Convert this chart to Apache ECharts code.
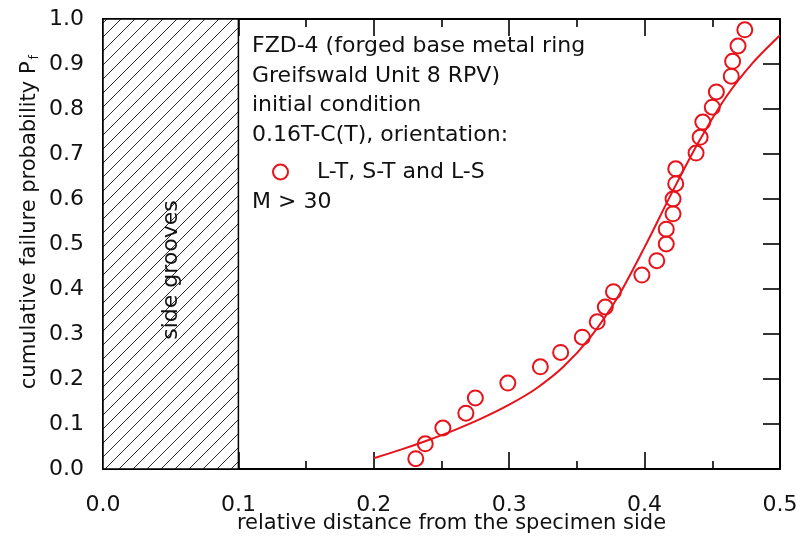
<!DOCTYPE html>
<html>
<head>
<meta charset="utf-8">
<script src="https://cdn.jsdelivr.net/npm/echarts@6/dist/echarts.min.js"></script>
<style>
  html, body { margin: 0; padding: 0; background: #fff; }
  #chart { width: 797px; height: 544px; }
</style>
</head>
<body>
<div id="chart"></div>
<script>
// Measured failure positions (relative distance) and their cumulative failure probability
const pointX = [0.231, 0.238, 0.251, 0.268, 0.275, 0.299, 0.323, 0.338, 0.354, 0.365,
                0.371, 0.377, 0.398, 0.409, 0.416, 0.416, 0.421, 0.421, 0.423, 0.423,
                0.438, 0.441, 0.443, 0.450, 0.453, 0.464, 0.465, 0.469, 0.474];
const pointY = [0.023, 0.056, 0.091, 0.124, 0.158, 0.191, 0.227, 0.259, 0.293, 0.327,
                0.360, 0.394, 0.431, 0.463, 0.500, 0.533, 0.567, 0.600, 0.634, 0.667,
                0.702, 0.737, 0.771, 0.804, 0.838, 0.873, 0.906, 0.940, 0.976];

// Fitted distribution curve
const curveX = [0.200, 0.220, 0.240, 0.260, 0.280, 0.300, 0.320, 0.340, 0.360,
                0.380, 0.400, 0.420, 0.440, 0.460, 0.480, 0.500];
const curveY = [0.024, 0.043, 0.064, 0.087, 0.113, 0.143, 0.179, 0.227, 0.293,
                0.381, 0.493, 0.613, 0.727, 0.826, 0.903, 0.964];

// Side-groove zone along the x axis
const grooveRange = [0.0, 0.1];

const xRange = [0, 0.5];
const yRange = [0, 1];

const infoLines = [
  'FZD-4 (forged base metal ring',
  'Greifswald Unit 8 RPV)',
  'initial condition',
  '0.16T-C(T), orientation:'
];
const seriesName = 'L-T, S-T and L-S';
const noteLine = 'M > 30';
const xTitle = 'relative distance from the specimen side';
const yTitle = 'cumulative failure probability P';
const ySub = 'f';
const grooveLabel = 'side grooves';

const RED = '#e8121a';
const FONT = 'DejaVu Sans';
const INK = '#111';

function hatchPattern() {
  const s = 14;
  const c = document.createElement('canvas');
  c.width = s; c.height = s;
  const g = c.getContext('2d');
  g.fillStyle = '#fff';
  g.fillRect(0, 0, s, s);
  g.strokeStyle = '#2a2a2a';
  g.lineWidth = 1;
  g.beginPath();
  g.moveTo(-2, s + 2); g.lineTo(s + 2, -2);
  g.moveTo(-2, 2); g.lineTo(2, -2);
  g.moveTo(s - 2, s + 2); g.lineTo(s + 2, s - 2);
  g.stroke();
  return c;
}

const chart = echarts.init(document.getElementById('chart'), null, { renderer: 'canvas' });

const fmt = v => v.toFixed(1);

const axisCommon = {
  type: 'value',
  interval: 0.1,
  axisLine: { show: true, onZero: false, lineStyle: { color: '#000', width: 2 } },
  axisTick: { show: true, inside: true, length: 17, lineStyle: { color: '#000', width: 1.6 } },
  splitLine: { show: false },
  nameMoveOverlap: false
};

const option = {
  backgroundColor: '#fff',
  animation: false,
  grid: { left: 103, top: 19, width: 677, height: 450, containLabel: false, outerBoundsMode: 'none' },
  xAxis: [
    Object.assign({}, axisCommon, {
      position: 'bottom', min: xRange[0], max: xRange[1],
      minorTick: { show: true, splitNumber: 2, length: 8, lineStyle: { color: '#000', width: 1.6 } },
      axisLabel: { show: true, formatter: fmt, margin: 25, fontFamily: FONT, fontSize: 22, color: INK },
      name: xTitle, nameLocation: 'middle', nameGap: 44,
      nameTextStyle: { fontFamily: FONT, fontSize: 21, color: INK, padding: [0, 0, 0, 20] }
    }),
    Object.assign({}, axisCommon, {
      position: 'top', min: xRange[0], max: xRange[1],
      minorTick: { show: true, splitNumber: 2, length: 8, lineStyle: { color: '#000', width: 1.6 } },
      axisLabel: { show: false }
    })
  ],
  yAxis: [
    Object.assign({}, axisCommon, {
      position: 'left', min: yRange[0], max: yRange[1],
      axisLabel: { show: true, formatter: fmt, margin: 19, fontFamily: FONT, fontSize: 22, color: INK }
    }),
    Object.assign({}, axisCommon, {
      position: 'right', min: yRange[0], max: yRange[1],
      axisLabel: { show: false }
    })
  ],
  legend: {
    show: true,
    data: [seriesName],
    left: 267, top: 156,
    orient: 'vertical',
    icon: 'circle',
    itemWidth: 15, itemHeight: 15,
    itemStyle: { color: 'rgba(0,0,0,0)', borderColor: RED, borderWidth: 2 },
    textStyle: { fontFamily: FONT, fontSize: 22, color: INK, padding: [0, 0, 0, 24] },
    selectedMode: false
  },
  series: [
    {
      name: 'zone',
      type: 'line',
      data: [],
      silent: true,
      markArea: {
        silent: true,
        itemStyle: {
          color: { image: hatchPattern(), repeat: 'repeat' },
          opacity: 1,
          borderColor: '#000', borderWidth: 1.5
        },
        label: { show: false },
        data: [[{ xAxis: grooveRange[0], yAxis: yRange[0] }, { xAxis: grooveRange[1], yAxis: yRange[1] }]]
      }
    },
    {
      name: 'fit',
      type: 'line',
      data: curveX.map((x, i) => [x, curveY[i]]),
      showSymbol: false,
      smooth: 0.3,
      clip: true,
      lineStyle: { color: RED, width: 2 },
      z: 3
    },
    {
      name: seriesName,
      type: 'scatter',
      data: pointX.map((x, i) => [x, pointY[i]]),
      symbol: 'circle',
      symbolSize: 15,
      itemStyle: { color: 'rgba(0,0,0,0)', borderColor: RED, borderWidth: 2, opacity: 1 },
      z: 4
    }
  ],
  graphic: [
    {
      type: 'text', x: 30, y: 222, rotation: Math.PI / 2, z: 100,
      style: {
        text: '{a|' + yTitle + '}{b|' + ySub + '}',
        align: 'center', verticalAlign: 'middle',
        rich: {
          a: { fontFamily: FONT, fontSize: 21, fill: INK },
          b: { fontFamily: FONT, fontSize: 13, fill: INK, padding: [10, 0, 0, 2] }
        }
      }
    },
    {
      type: 'text', x: 171, y: 270, rotation: Math.PI / 2, z: 100,
      style: { text: grooveLabel, fontFamily: FONT, fontSize: 22, fill: INK, align: 'center', verticalAlign: 'middle' }
    }
  ].concat(infoLines.map((t, i) => ({
    type: 'text', x: 252, y: 46 + i * 29.8, z: 100,
    style: { text: t, fontFamily: FONT, fontSize: 22, fill: INK, align: 'left', verticalAlign: 'middle' }
  }))).concat([{
    type: 'text', x: 252, y: 202, z: 100,
    style: { text: noteLine, fontFamily: FONT, fontSize: 22, fill: INK, align: 'left', verticalAlign: 'middle' }
  }])
};

chart.setOption(option);
</script>
</body>
</html>
